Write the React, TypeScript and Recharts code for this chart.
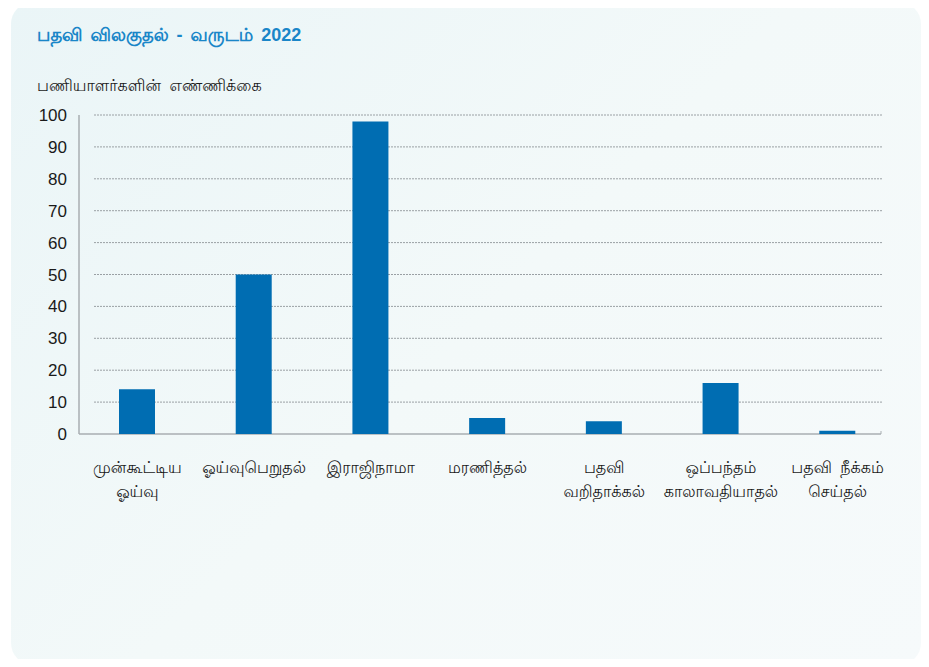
import { BarChart, Bar, XAxis, YAxis, CartesianGrid } from "recharts";

const categories = [
  "முன்கூட்டிய\nஓய்வு",
  "ஓய்வுபெறுதல்",
  "இராஜிநாமா",
  "மரணித்தல்",
  "பதவி\nவறிதாக்கல்",
  "ஒப்பந்தம்\nகாலாவதியாதல்",
  "பதவி நீக்கம்\nசெய்தல்",
];
const counts = [14, 50, 98, 5, 4, 16, 1];
const yTicks = [0, 10, 20, 30, 40, 50, 60, 70, 80, 90, 100];

const data = categories.map((name, i) => ({ name, value: counts[i] }));

const FONT = "'Liberation Sans', 'Lohit Tamil', sans-serif";

const CategoryTick = ({ x, y, payload }: any) => {
  const lines = String(payload.value).split("\n");
  return (
    <text x={x} y={y + 31} textAnchor="middle" fill="#1a1a1a" fontSize={16} fontFamily={FONT} wordSpacing={4}>
      {lines.map((l, i) => (
        <tspan key={i} x={x} dy={i === 0 ? 0 : 24}>
          {l}
        </tspan>
      ))}
    </text>
  );
};

const GridLine = (props: any) => {
  const bottom = Math.abs(props.y1 - (props.y + props.height)) < 1;
  if (bottom) {
    return (
      <g>
        <line x1={props.x1} x2={props.x2 - 15} y1={props.y1} y2={props.y2} stroke="#a9aeb2" strokeWidth={1.5} />
        <line x1={props.x2 - 15} x2={props.x2 - 15} y1={props.y1} y2={props.y1 - 3} stroke="#a9aeb2" />
      </g>
    );
  }
  return (
    <line
      x1={props.x1 + 15}
      x2={props.x2 - 13}
      y1={props.y1}
      y2={props.y2}
      stroke="#9aa0a4"
      strokeWidth={1}
      strokeDasharray="2 1"
    />
  );
};

export default function App() {
  return (
    <div style={{ position: "relative", width: 929, height: 667, margin: -8, fontFamily: FONT }}>
      <div
        style={{
          position: "absolute",
          left: 11,
          top: 2,
          width: 910,
          height: 663,
          borderRadius: 22,
          background: "linear-gradient(135deg, #eaf5f7 0%, #f3f9f9 50%, #f6fafb 100%)",
        }}
      />
      <div
        style={{
          position: "absolute",
          left: 37,
          top: 25,
          fontSize: 18,
          fontWeight: "bold",
          color: "#1a86c8",
          whiteSpace: "pre",
          wordSpacing: 3,
        }}
      >
        பதவி விலகுதல் - வருடம் 2022
      </div>
      <div
        style={{
          position: "absolute",
          left: 37,
          top: 77,
          fontSize: 16,
          color: "#1a1a1a",
          whiteSpace: "pre",
          wordSpacing: 4,
        }}
      >
        பணியாளர்களின் எண்ணிக்கை
      </div>
      <div style={{ position: "absolute", left: 0, top: 0 }}>
        <BarChart
          width={929}
          height={667}
          data={data}
          margin={{ top: 115, right: 33, left: 19, bottom: 173 }}
          barSize={36}
        >
          <CartesianGrid vertical={false} horizontal={<GridLine />} />
          <XAxis
            dataKey="name"
            interval={0}
            height={60}
            axisLine={false}
            tickLine={false}
            tick={<CategoryTick />}
          />
          <YAxis
            domain={[0, 100]}
            ticks={yTicks}
            width={60}
            axisLine={{ stroke: "#a9aeb2", strokeWidth: 1.5 }}
            tickLine={false}
            tickMargin={6}
            tick={{ fill: "#1a1a1a", fontSize: 17, fontFamily: FONT }}
          />
          <Bar dataKey="value" fill="#006db2" isAnimationActive={false} />
        </BarChart>
      </div>
    </div>
  );
}
